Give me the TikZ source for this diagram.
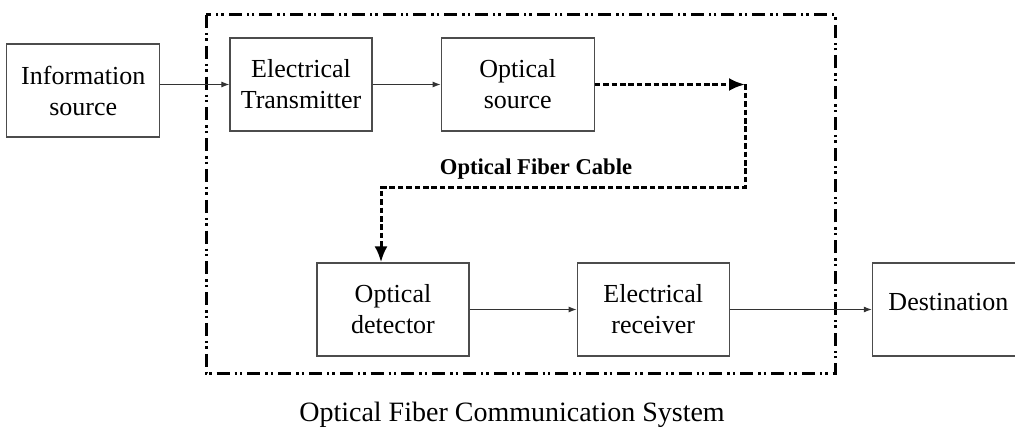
\documentclass[tikz,border=0pt]{standalone}
\usepackage{fontspec}
\setmainfont{Liberation Serif}
\usetikzlibrary{arrows.meta,positioning}
\tikzset{
  blockbox/.style={draw=black!70, line width=0.6pt, align=center, minimum height=46.5pt, inner sep=2pt, font=\fontsize{13}{15.5}\selectfont},
  arrow/.style={-{Latex[length=4pt,width=3pt]}, line width=0.5pt, draw=black!80},
  fiber/.style={-{Latex[length=8pt,width=6.5pt]}, line width=1.5pt, dash pattern=on 2.8pt off 1.4pt},
  framebox/.style={line width=1.5pt, dash pattern=on 6.5pt off 2.5pt on 1.2pt off 1.5pt on 1.2pt off 2.5pt}
}
\begin{document}
\begin{tikzpicture}[x=0.5pt, y=-0.5pt]
\useasboundingbox (0,0) rectangle (1015,442);

% dash-dot frame round the system
\coordinate (fnw) at (206,15);
\coordinate (fse) at (835,374);
\draw[framebox] (fnw) rectangle (fse);

% transmitter side
\node[blockbox, minimum width=71pt] (et) at (301,84.5)
    {Electrical\\Transmitter};
\node[blockbox, minimum width=76.5pt, left=34.5pt of et, yshift=-3pt] (info)
    {Information\\source};
\node[blockbox, minimum width=76.5pt, right=34pt of et] (os)
    {Optical\\source};

% receiver side
\node[blockbox, minimum width=76pt] (od) at (393,309.5)
    {Optical\\detector};
\node[blockbox, minimum width=76pt, right=53.5pt of od] (er)
    {Electrical\\receiver};
\begin{scope}
\clip (0,0) rectangle (1015,442);
\node[blockbox, minimum width=76pt, right=71pt of er, text depth=8pt] (dest)
    {Destination};
\end{scope}

% electrical links
\draw[arrow] (info.east |- et) -- (et);
\draw[arrow] (et) -- (os);
\draw[arrow] (od) -- (er);
\draw[arrow] (er) -- (dest);

% fiber cable
\coordinate (bend) at (745,84.5);
\coordinate (c1) at (745,188);
\coordinate (c2) at (381,188);
\draw[fiber] (os) -- (bend);
\draw[fiber] (bend) -- (c1) -- (c2) -- (c2 |- od.north);
\node[font=\fontsize{11.3}{13}\selectfont\bfseries] (cable) at (536,169)
    {Optical Fiber Cable};

% caption
\node[font=\fontsize{14}{16}\selectfont] (caption) at (512,415)
    {Optical Fiber Communication System};
\end{tikzpicture}
\end{document}
